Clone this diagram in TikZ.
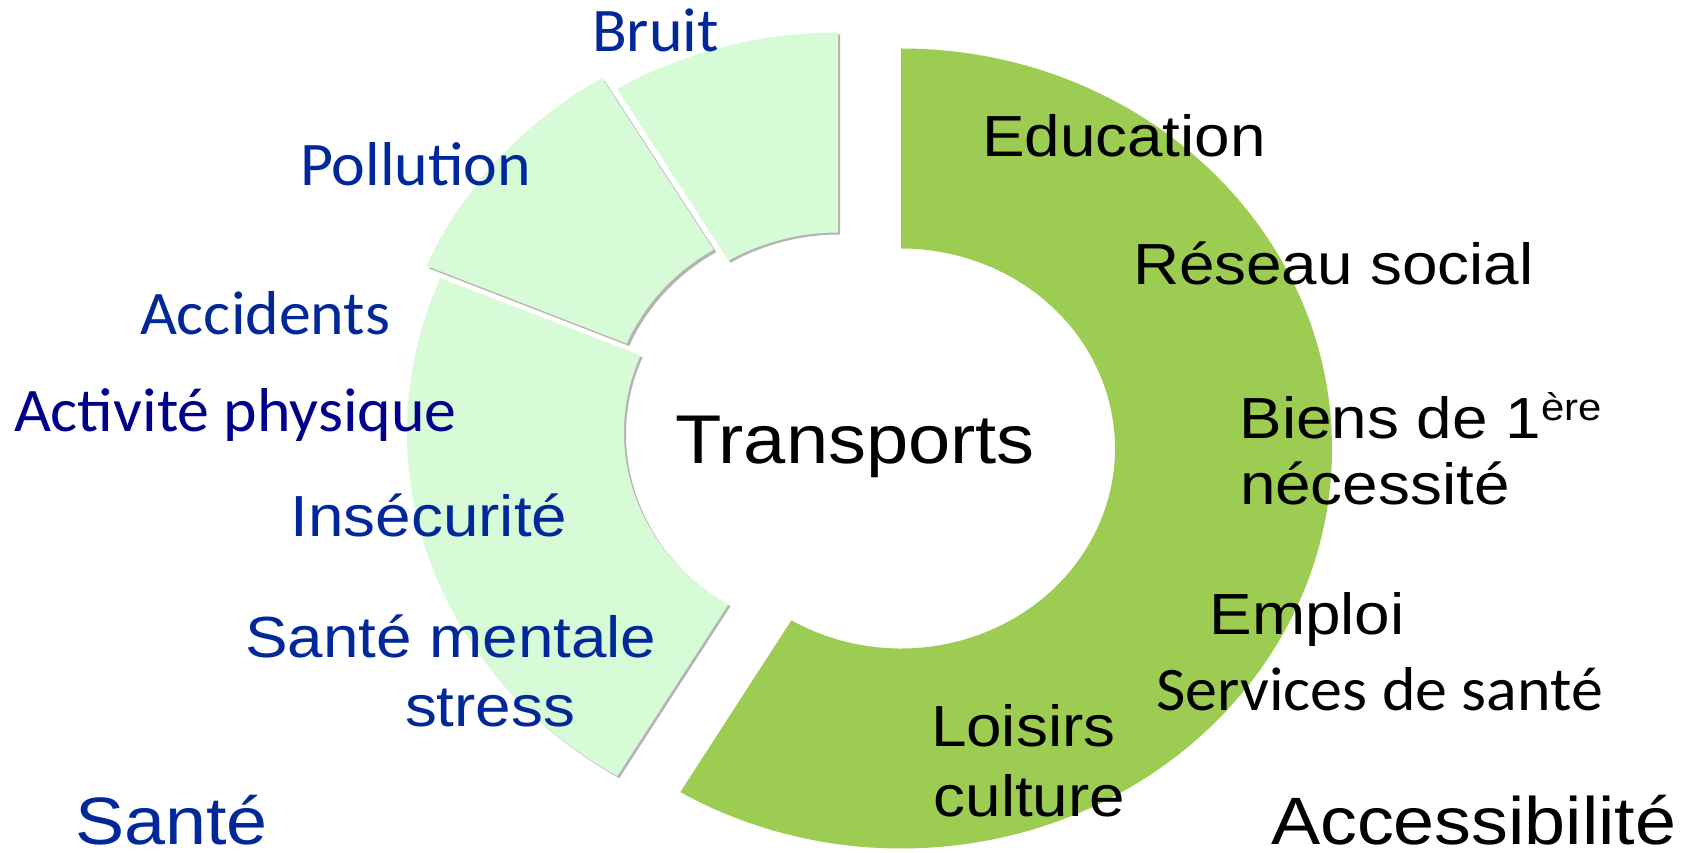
\documentclass[tikz,border=0pt]{standalone}
\usepackage{fontspec}
\newfontfamily\calfont[FakeStretch=1.03]{Carlito}
\newfontfamily\arifont[FakeStretch=1.1]{Liberation Sans}
\definecolor{lightseg}{RGB}{214,251,214}
\definecolor{greenseg}{RGB}{156,204,82}
\definecolor{blueA}{RGB}{0,40,155}
\definecolor{navyA}{RGB}{0,0,140}
\definecolor{shadowc}{RGB}{180,180,180}
\newcommand\ringseg[5]{%
  \fill[#1] ({#2+431*cos(#4)},{#3+400*sin(#4)})
    arc[start angle=#4, end angle=#5, x radius=431, y radius=400]
    -- ({#2+214*cos(#5)},{#3+200*sin(#5)})
    arc[start angle=#5, end angle=#4, x radius=214, y radius=200] -- cycle;}
\tikzset{
  lbl/.style={inner sep=0pt, outer sep=0pt, anchor=base west},
  callbl/.style={lbl, font=\calfont\fontsize{62}{70}\selectfont},
  arilbl/.style={lbl, font=\arifont\fontsize{58}{66}\selectfont},
}
\begin{document}
\begin{tikzpicture}[x=1pt,y=1pt]
\useasboundingbox (0,0) rectangle (1698,852);
\fill[white] (0,0) rectangle (1698,852);
% shadows
\ringseg{shadowc}{840}{417.5}{90}{120.8}
\ringseg{shadowc}{826.5}{428.5}{121}{157.2}
\ringseg{shadowc}{840}{417.5}{157.3}{239.2}
% segments
\ringseg{greenseg}{901}{403.5}{90}{-120.8}
\ringseg{lightseg}{838}{419.5}{90}{120.8}
\ringseg{lightseg}{824}{431}{121}{157.2}
\ringseg{lightseg}{838}{419.5}{157.3}{239.2}
% Sante side
\node[callbl, text=blueA] (bruit) at (592,800) {Bruit};
\node[callbl, text=blueA] (pollution) at (300,666) {Pollution};
\node[callbl, text=blueA] (accidents) at (140,517) {Accidents};
\node[callbl, text=navyA] (activite) at (14,420.3) {Activité physique};
\node[arilbl, text=blueA] (insecurite) at (290.7,315.3) {Insécurité};
\node[arilbl, text=blueA] (mentale) at (245,194.7) {Santé mentale};
\node[arilbl, text=blueA] (stress) at (405,125.3) {stress};
\node[lbl, font=\arifont\fontsize{67}{75}\selectfont, text=blueA] (sante) at (75,8) {Santé};
% centre
\node[lbl, font=\arifont\fontsize{69}{78}\selectfont] (transports) at (675,388.5) {Transports};
% Accessibilite side
\node[arilbl] (education) at (982,695.3) {Education};
\node[arilbl] (reseau) at (1133,567) {Réseau social};
\node[arilbl] (biens) at (1239.5,413.7) {Biens de 1\raisebox{17.6pt}{\fontsize{38}{40}\selectfont ère}};
\node[arilbl] (necessite) at (1240,347) {nécessité};
\node[arilbl] (emploi) at (1209.5,217) {Emploi};
\node[callbl] (services) at (1156.5,142) {Services de santé};
\node[arilbl] (loisirs) at (931,105.3) {Loisirs};
\node[arilbl] (culture) at (933.7,35.3) {culture};
\node[lbl, font=\arifont\fontsize{67}{75}\selectfont] (accessibilite) at (1271,8) {Accessibilité};
\end{tikzpicture}
\end{document}
